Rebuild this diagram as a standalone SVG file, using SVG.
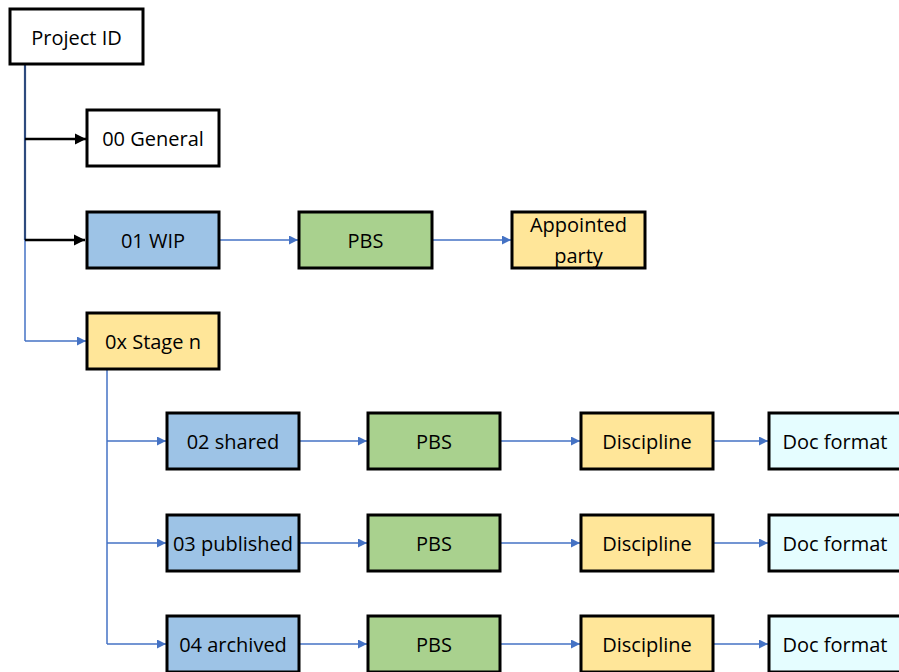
<svg xmlns="http://www.w3.org/2000/svg" width="899" height="672" viewBox="0 0 899 672">
<defs>
<marker id="ab" viewBox="0 0 10 10" refX="10" refY="5" markerWidth="9" markerHeight="9" orient="auto" markerUnits="userSpaceOnUse">
<path d="M0,0 L10,5 L0,10 z" fill="#4472C4"/>
</marker>
<marker id="ak" viewBox="0 0 10 10" refX="10" refY="5" markerWidth="11" markerHeight="12" orient="auto" markerUnits="userSpaceOnUse">
<path d="M0,0 L10,5 L0,10 z" fill="#000"/>
</marker>
<style>
.box{stroke:#000;stroke-width:3}
.w{fill:#fff}.b{fill:#9DC3E6}.g{fill:#A9D18E}.y{fill:#FFE699}.c{fill:#E5FDFF}
text{font-family:"Open Sans","Liberation Sans",sans-serif;font-size:20px;fill:#000;text-anchor:middle;dominant-baseline:central}
.bl{stroke:#4472C4;stroke-width:1.5;fill:none}
.bk{stroke:#000;stroke-width:2.5;fill:none}
</style>
</defs>
<rect width="899" height="672" fill="#fff"/>
<g id="connectors">
<line class="bl" x1="25" y1="240" x2="25" y2="341"/>
<line x1="25" y1="64" x2="25" y2="240" stroke="#2E4A7D" stroke-width="2.2"/>
<path class="bk" d="M25,139 H86" marker-end="url(#ak)"/>
<path class="bk" d="M25,240 H85" marker-end="url(#ak)"/>
<path class="bl" d="M25,341 H86" marker-end="url(#ab)"/>
<path class="bl" d="M220,240 H298" marker-end="url(#ab)"/>
<path class="bl" d="M433,240 H511" marker-end="url(#ab)"/>
<path class="bl" d="M107,369 V644"/>
<path class="bl" d="M107,441 H166" marker-end="url(#ab)"/>
<path class="bl" d="M107,543 H166" marker-end="url(#ab)"/>
<path class="bl" d="M107,644 H166" marker-end="url(#ab)"/>
<path class="bl" d="M300,441 H367" marker-end="url(#ab)"/>
<path class="bl" d="M501,441 H580" marker-end="url(#ab)"/>
<path class="bl" d="M714,441 H768" marker-end="url(#ab)"/>
<path class="bl" d="M300,543 H367" marker-end="url(#ab)"/>
<path class="bl" d="M501,543 H580" marker-end="url(#ab)"/>
<path class="bl" d="M714,543 H768" marker-end="url(#ab)"/>
<path class="bl" d="M300,644 H367" marker-end="url(#ab)"/>
<path class="bl" d="M501,644 H580" marker-end="url(#ab)"/>
<path class="bl" d="M714,644 H768" marker-end="url(#ab)"/>
</g>
<g id="project-id"><rect class="box w" x="10" y="9" width="133" height="55"/><text x="76.5" y="37">Project ID</text></g>
<g id="general"><rect class="box w" x="87" y="110" width="132" height="56"/><text x="153" y="138">00 General</text></g>
<g id="wip"><rect class="box b" x="87" y="212" width="132" height="56"/><text x="153" y="240">01 WIP</text></g>
<g id="wip-pbs"><rect class="box g" x="299" y="212" width="133" height="56"/><text x="365.5" y="240">PBS</text></g>
<g id="appointed"><rect class="box y" x="512" y="212" width="133" height="56"/><text x="578.5" y="224">Appointed</text><text x="578.5" y="255">party</text></g>
<g id="stage"><rect class="box y" x="87" y="313" width="132" height="56"/><text x="153" y="341">0x Stage n</text></g>
<g id="shared"><rect class="box b" x="167" y="413" width="132" height="56"/><text x="233" y="441">02 shared</text></g>
<g id="shared-pbs"><rect class="box g" x="368" y="413" width="132" height="56"/><text x="434" y="441">PBS</text></g>
<g id="shared-disc"><rect class="box y" x="581" y="413" width="132" height="56"/><text x="647" y="441">Discipline</text></g>
<g id="shared-doc"><rect class="box c" x="769" y="413" width="134" height="56"/><text x="835" y="441">Doc format</text></g>
<g id="published"><rect class="box b" x="167" y="515" width="132" height="56"/><text x="233" y="543">03 published</text></g>
<g id="published-pbs"><rect class="box g" x="368" y="515" width="132" height="56"/><text x="434" y="543">PBS</text></g>
<g id="published-disc"><rect class="box y" x="581" y="515" width="132" height="56"/><text x="647" y="543">Discipline</text></g>
<g id="published-doc"><rect class="box c" x="769" y="515" width="134" height="56"/><text x="835" y="543">Doc format</text></g>
<g id="archived"><rect class="box b" x="167" y="616" width="132" height="56"/><text x="233" y="644">04 archived</text></g>
<g id="archived-pbs"><rect class="box g" x="368" y="616" width="132" height="56"/><text x="434" y="644">PBS</text></g>
<g id="archived-disc"><rect class="box y" x="581" y="616" width="132" height="56"/><text x="647" y="644">Discipline</text></g>
<g id="archived-doc"><rect class="box c" x="769" y="616" width="134" height="56"/><text x="835" y="644">Doc format</text></g>
</svg>
